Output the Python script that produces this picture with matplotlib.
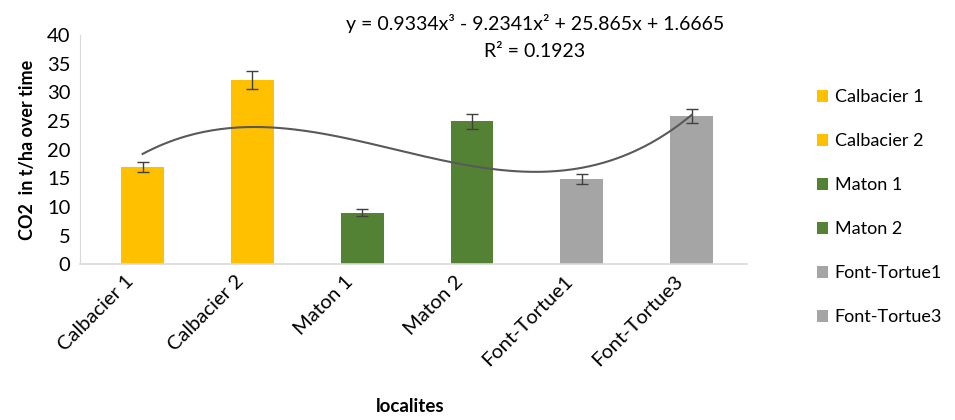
import numpy as np
import matplotlib
matplotlib.use("Agg")
import matplotlib.pyplot as plt
import matplotlib.transforms as mtransforms

plt.rcParams['font.family'] = ['Lato', 'DejaVu Sans']

# donnees
localites = ['Calbacier 1', 'Calbacier 2', 'Maton 1', 'Maton 2', 'Font-Tortue1', 'Font-Tortue3']
co2 = [17.0, 32.1, 9.0, 24.9, 14.9, 25.9]
erreurs = [0.9, 1.6, 0.55, 1.25, 0.9, 1.25]
couleurs = ['#FFC000', '#FFC000', '#548235', '#548235', '#A5A5A5', '#A5A5A5']

# coefficients de la courbe de tendance (polynome degre 3)
coef_tendance = [0.9334, -9.2341, 25.865, 1.6665]
equation = 'y = 0.9334x³ - 9.2341x² + 25.865x + 1.6665'
r2_texte = 'R² = 0.1923'

fig = plt.figure(figsize=(9.55, 4.2), dpi=100)
ax = fig.add_axes([0.0838, 0.371, 0.698, 0.546])

x = np.arange(len(localites))
for i in range(len(localites)):
    ax.bar(x[i], co2[i], width=0.39, color=couleurs[i], label=localites[i], zorder=2)
ax.errorbar(x, co2, yerr=erreurs, fmt='none', ecolor='#404040', elinewidth=1,
            capsize=4, capthick=1, zorder=3)

# courbe de tendance
xt = np.linspace(1, 6, 200)
yt = np.polyval(coef_tendance, xt)
ax.plot(xt - 1, yt, color='#595959', lw=1.5, zorder=4)

ax.set_ylim(0, 40)
ax.set_xlim(-0.57, 5.5)
ax.set_yticks(np.arange(0, 41, 5))
ax.set_xticks(x)
ax.set_xticklabels(localites, rotation=45, ha='right', rotation_mode='anchor', fontsize=14.5)
ax.tick_params(axis='y', labelsize=14.5, length=0, pad=7)
ax.tick_params(axis='x', length=0, pad=6)

# decaler un peu les etiquettes vers la gauche
decalage = mtransforms.ScaledTranslation(-18 / 100, 0, fig.dpi_scale_trans)
for lab in ax.get_xticklabels():
    lab.set_transform(lab.get_transform() + decalage)

for s in ['top', 'right']:
    ax.spines[s].set_visible(False)
ax.spines['left'].set_color('#D9D9D9')
ax.spines['bottom'].set_color('#D9D9D9')
ax.spines['bottom'].set_linewidth(1.2)

ax.set_ylabel('CO2  in t/ha over time', fontsize=13, fontweight='bold', labelpad=8)
fig.text(0.43, 0.02, 'localites', fontsize=13.5, fontweight='bold', ha='center')

fig.text(0.56, 0.945, equation, fontsize=14, ha='center', va='center')
fig.text(0.56, 0.878, r2_texte, fontsize=14, ha='center', va='center')

ax.legend(loc='upper left', bbox_to_anchor=(0.838, 0.826), bbox_transform=fig.transFigure,
          frameon=False, fontsize=13, handlelength=0.65, handleheight=0.65,
          handletextpad=0.35, labelspacing=1.55)

fig.savefig('out.png', dpi=100)
